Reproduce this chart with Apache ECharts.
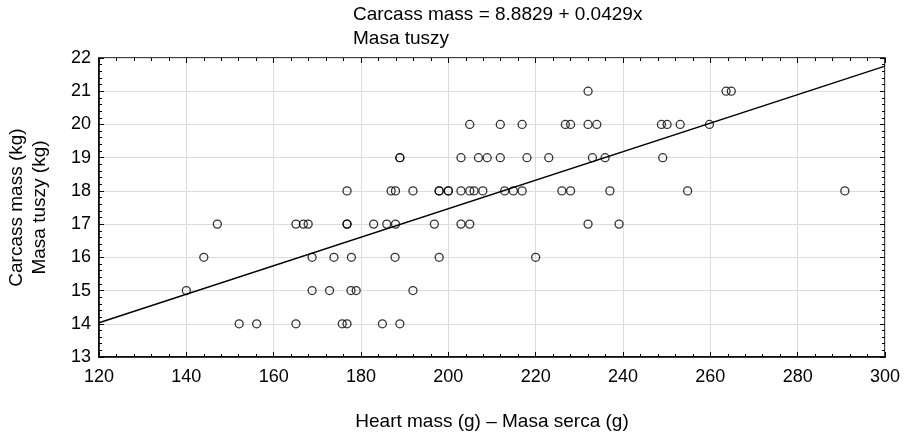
<!DOCTYPE html>
<html lang="en">
<head>
<meta charset="UTF-8">
<title>Carcass mass vs heart mass</title>
<script src="https://cdn.jsdelivr.net/npm/echarts@6/dist/echarts.min.js"></script>
<style>
  html, body, #chart { width: 100%; height: 100%; margin: 0; background: #fff; }
</style>
</head>
<body>
<div id="chart"></div>
<script>
// heart mass (g) and carcass mass (kg)
var heartMass = [
  152.1, 156.1, 165.1, 175.7, 176.8, 184.9, 188.9,
  140.0, 168.8, 172.8, 177.7, 178.9, 191.9,
  144.0, 168.8, 173.8, 177.8, 187.8, 197.9, 220.0,
  147.1, 165.1, 166.8, 167.9, 176.8, 176.8, 182.9, 185.9, 187.9, 196.8, 202.9, 204.9, 232.0, 239.1,
  176.8, 186.9, 187.9, 191.9, 197.9, 197.9, 200.0, 200.0, 202.9, 204.9, 205.9, 207.9, 212.9, 214.9, 216.9, 226.0, 228.0, 237.0, 254.8, 290.8,
  188.9, 188.9, 202.9, 206.9, 208.9, 211.9, 218.0, 223.0, 233.0, 235.9, 249.1,
  204.9, 211.9, 216.9, 226.8, 228.0, 232.0, 234.0, 248.8, 250.1, 253.1, 259.8,
  232.0, 263.6, 264.8
];
var carcassMass = [
  14, 14, 14, 14, 14, 14, 14,
  15, 15, 15, 15, 15, 15,
  16, 16, 16, 16, 16, 16, 16,
  17, 17, 17, 17, 17, 17, 17, 17, 17, 17, 17, 17, 17, 17,
  18, 18, 18, 18, 18, 18, 18, 18, 18, 18, 18, 18, 18, 18, 18, 18, 18, 18, 18, 18,
  19, 19, 19, 19, 19, 19, 19, 19, 19, 19, 19,
  20, 20, 20, 20, 20, 20, 20, 20, 20, 20, 20,
  21, 21, 21
];
// regression: Carcass mass = 8.8829 + 0.0429x
var intercept = 8.8829;
var slope = 0.0429;
var xRange = [120, 300];

var points = heartMass.map(function (h, i) { return [h, carcassMass[i]]; });
var fitLine = xRange.map(function (x) { return [x, intercept + slope * x]; });

var font = 'Liberation Sans, Arial, sans-serif';
var chart = echarts.init(document.getElementById('chart'));

var tickStyle = { show: true, inside: true, length: 5, lineStyle: { color: '#000', width: 1 } };
var minorStyle = { show: true, length: 3, splitNumber: 5, lineStyle: { color: '#000', width: 1 } };
var textStyle = { fontFamily: font, fontSize: 19, fontWeight: 'normal', color: '#000' };

chart.setOption({
  animation: false,
  title: [
    { text: 'Carcass mass = 8.8829 + 0.0429x', left: 353, top: 5, padding: 0, textStyle: textStyle },
    { text: 'Masa tuszy', left: 353, top: 29, padding: 0, textStyle: textStyle }
  ],
  grid: {
    left: 99, right: 24, top: 58, bottom: 79, outerBoundsMode: 'none',
    show: true, borderColor: '#000', borderWidth: 1.5
  },
  xAxis: [{
    type: 'value', min: 120, max: 300, interval: 20,
    name: 'Heart mass (g) \u2013 Masa serca (g)', nameLocation: 'middle', nameGap: 55,
    nameTextStyle: textStyle,
    axisLine: { show: true, lineStyle: { color: '#000', width: 1.5 } },
    axisTick: tickStyle, minorTick: minorStyle,
    axisLabel: { fontFamily: font, fontSize: 18, color: '#000', margin: 11 },
    splitLine: { show: true, lineStyle: { color: '#dcdcdc', width: 1 } }
  }, {
    type: 'value', position: 'top', min: 120, max: 300, interval: 20,
    axisLine: { show: false }, axisTick: tickStyle, minorTick: minorStyle,
    axisLabel: { show: false }, splitLine: { show: false }
  }],
  yAxis: [{
    type: 'value', min: 13, max: 22, interval: 1,
    name: 'Carcass mass (kg)\nMasa tuszy (kg)', nameLocation: 'middle', nameGap: 48,
    nameTextStyle: { fontFamily: font, fontSize: 19, color: '#000', lineHeight: 23 },
    axisLine: { show: true, lineStyle: { color: '#000', width: 1.5 } },
    axisTick: tickStyle, minorTick: minorStyle,
    axisLabel: { fontFamily: font, fontSize: 18, color: '#000', margin: 8 },
    splitLine: { show: true, lineStyle: { color: '#dcdcdc', width: 1 } }
  }, {
    type: 'value', position: 'right', min: 13, max: 22, interval: 1,
    axisLine: { show: false }, axisTick: tickStyle, minorTick: minorStyle,
    axisLabel: { show: false }, splitLine: { show: false }
  }],
  series: [{
    type: 'line', data: fitLine, showSymbol: false, silent: true,
    lineStyle: { color: '#000', width: 1.4 }, z: 3
  }, {
    type: 'scatter', data: points, symbol: 'circle', symbolSize: 8,
    itemStyle: { color: 'rgba(255,255,255,0)', borderColor: '#000', borderWidth: 1.3 }, z: 4
  }]
});
window.onresize = chart.resize;
</script>
</body>
</html>
